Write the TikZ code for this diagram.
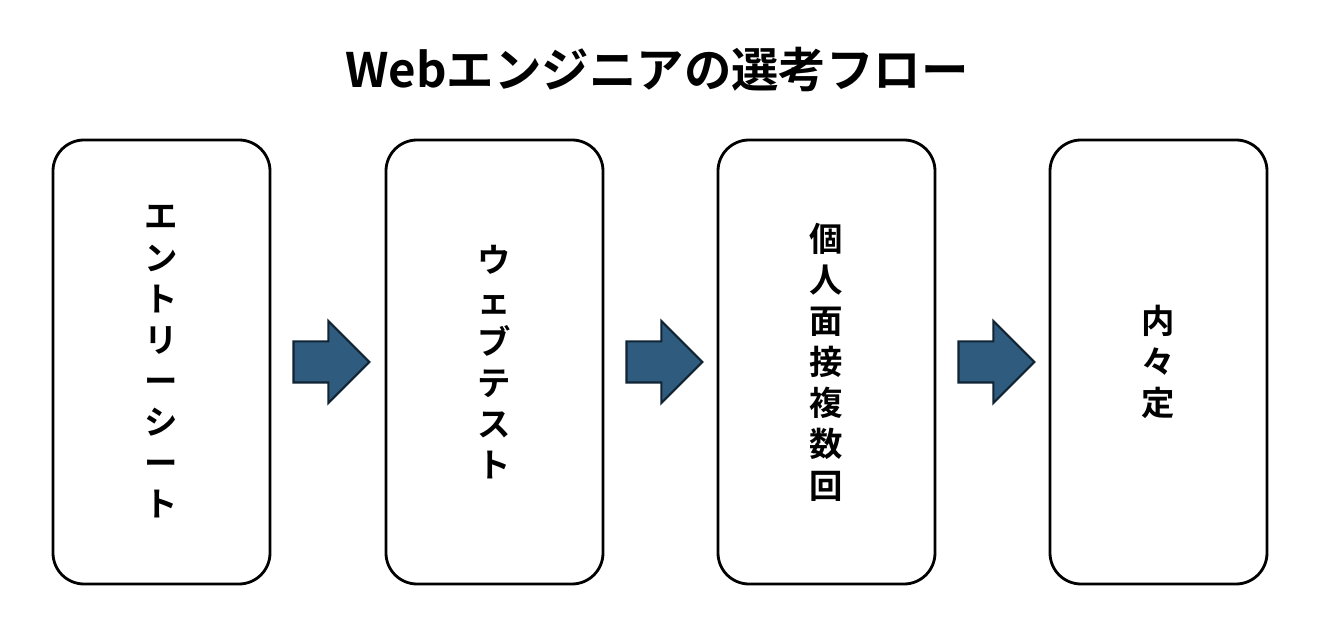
\documentclass[tikz,border=0pt]{standalone}
\usepackage{fontspec}
\setmainfont{Noto Sans CJK JP}[BoldFont={Noto Sans CJK JP Bold}]
\usepackage{tikz}
\usetikzlibrary{calc,shapes.arrows}

\definecolor{arrowfill}{RGB}{47,92,126}
\definecolor{arrowline}{RGB}{16,36,52}

\begin{document}
\begin{tikzpicture}[font=\bfseries,
    stagebox/.style={draw=black,line width=1.6pt,rounded corners=0.62cm,
        minimum width=4.34cm,minimum height=8.88cm,align=center,
        font=\bfseries\fontsize{19}{23.4}\selectfont},
    flowarrow/.style={single arrow,fill=arrowfill,draw=arrowline,line width=1.2pt,
        minimum height=1.52cm,single arrow head extend=0.41cm,
        inner xsep=0pt,inner ysep=0.39cm,anchor=tail}]
    \useasboundingbox (0,0) rectangle (26.6,12.84);

    \node (title) at (13.14,11.44) {\fontsize{27}{31}\selectfont Webエンジニアの選考フロー};

    \node [stagebox] (entry) at (3.23,5.6) {エ\\ン\\ト\\リ\\ー\\シ\\ー\\ト};
    \node [stagebox] (webtest) at (9.89,5.6) {ウ\\ェ\\ブ\\テ\\ス\\ト};
    \node [stagebox] (interview) at (16.53,5.6) {個\\人\\面\\接\\複\\数\\回};
    \node [stagebox] (offer) at (23.17,5.6) {内\\々\\定};

    \node [flowarrow] (arrow1) at ($(entry.east)+(0.42,0)$) {};
    \node [flowarrow] (arrow2) at ($(webtest.east)+(0.42,0)$) {};
    \node [flowarrow] (arrow3) at ($(interview.east)+(0.42,0)$) {};
\end{tikzpicture}
\end{document}
